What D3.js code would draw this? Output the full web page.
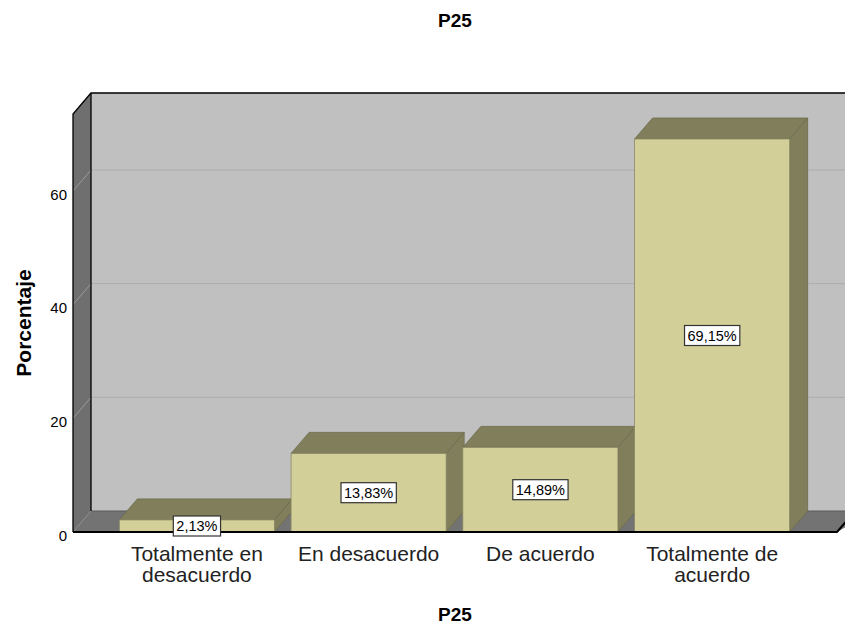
<!DOCTYPE html>
<html><head><meta charset="utf-8">
<script src="https://cdn.jsdelivr.net/npm/d3@7/dist/d3.min.js"></script>
<style>body{margin:0;background:#fff}svg{display:block}text{font-family:"Liberation Sans",Arial,sans-serif}</style>
</head><body>
<svg id="c" width="845" height="626"></svg>
<script>
const categories = ["Totalmente en desacuerdo","En desacuerdo","De acuerdo","Totalmente de acuerdo"];
const catLines = [["Totalmente en","desacuerdo"],["En desacuerdo"],["De acuerdo"],["Totalmente de","acuerdo"]];
const values = [2.13, 13.83, 14.89, 69.15];
const valueLabels = ["2,13%","13,83%","14,89%","69,15%"];
const yTicks = [0,20,40,60];

const svg = d3.select("#c");
const DX = 18, DY = -21;
const x0 = 73, x1 = 837, yBase = 532, yTop = 114;
const y = d3.scaleLinear().domain([0,73.55]).range([yBase,yTop]);
const x = d3.scaleBand().domain(categories).range([111,798]).padding(0);
const bw = x.bandwidth()*0.903;

// back wall
svg.append("rect").attr("x",x0+DX).attr("y",yTop+DY).attr("width",900).attr("height",yBase-yTop).attr("fill","#c0c0c0");
// left wall
svg.append("polygon").attr("points",[[x0,yTop],[x0+DX,yTop+DY],[x0+DX,yBase+DY],[x0,yBase]].join(" ")).attr("fill","#6f6f6f");
// floor
svg.append("polygon").attr("points",[[x0,yBase],[x0+DX,yBase+DY],[x1+DX+20,yBase+DY],[x1,yBase]].join(" ")).attr("fill","#737373");
// gridlines
yTicks.filter(d=>d>0).forEach(v=>{
  svg.append("line").attr("x1",x0+DX).attr("x2",845).attr("y1",y(v)+DY).attr("y2",y(v)+DY).attr("stroke","#acacac").attr("stroke-width",1);
  svg.append("line").attr("x1",x0).attr("x2",x0+DX).attr("y1",y(v)).attr("y2",y(v)+DY).attr("stroke","#9a9a9a").attr("stroke-width",1);
});
// floor back edge
svg.append("line").attr("x1",x0+DX).attr("x2",845).attr("y1",yBase+DY).attr("y2",yBase+DY).attr("stroke","#5a5a5a").attr("stroke-width",1);
// frame lines
const fr = svg.append("g").attr("stroke","#000").attr("stroke-width",1.3).attr("fill","none");
fr.append("polyline").attr("points",[[x0,yBase],[x0,yTop],[x0+DX,yTop+DY],[845,yTop+DY]].join(" "));
fr.append("line").attr("x1",x0+DX).attr("x2",x0+DX).attr("y1",yTop+DY).attr("y2",yBase+DY);
fr.append("polyline").attr("points",[[x0,yBase],[x1,yBase],[x1+DX,yBase+DY]].join(" ")).attr("stroke-width",2);

// bars
categories.forEach((c,i)=>{
  const v = values[i];
  const bx = x(c) + (x.bandwidth()-bw)/2, by = y(v);
  const g = svg.append("g");
  g.append("polygon").attr("points",[[bx+bw,by],[bx+bw+DX,by+DY],[bx+bw+DX,yBase+DY],[bx+bw,yBase]].join(" ")).attr("fill","#817f5b").attr("stroke","#6c6b4b").attr("stroke-width",0.8);
  g.append("polygon").attr("points",[[bx,by],[bx+DX,by+DY],[bx+bw+DX,by+DY],[bx+bw,by]].join(" ")).attr("fill","#817f5b").attr("stroke","#6c6b4b").attr("stroke-width",0.8);
  g.append("rect").attr("x",bx).attr("y",by).attr("width",bw).attr("height",yBase-by).attr("fill","#d3cf98").attr("stroke","#8a8866").attr("stroke-width",0.8);
});
// redraw front baseline over bars
svg.append("line").attr("x1",x0).attr("x2",x1).attr("y1",yBase).attr("y2",yBase).attr("stroke","#000").attr("stroke-width",2);

// value labels
categories.forEach((c,i)=>{
  const v = values[i];
  const cx = x(c)+x.bandwidth()/2;
  let cy = (y(v)+yBase)/2;
  if (yBase - y(v) < 22) cy = yBase - 6;
  const g = svg.append("g");
  const r = g.append("rect");
  const t = g.append("text").attr("x",cx).attr("y",cy).attr("text-anchor","middle").attr("dominant-baseline","central").attr("font-size",14.5).attr("fill","#000").text(valueLabels[i]);
  const bb = t.node().getBBox();
  r.attr("x",bb.x-3).attr("y",cy-10).attr("width",bb.width+6).attr("height",20).attr("fill","#fff").attr("stroke","#333").attr("stroke-width",1.2);
});

// y tick labels
yTicks.forEach(v=>{
  svg.append("text").attr("x",67).attr("y",y(v)+8.5).attr("text-anchor","end").attr("font-size",15).attr("fill","#000").text(v);
});
// category labels
categories.forEach((c,i)=>{
  const cx = x(c)+x.bandwidth()/2;
  catLines[i].forEach((l,j)=>{
    svg.append("text").attr("x",cx).attr("y",561+j*21).attr("text-anchor","middle").attr("font-size",21).attr("fill","#222").text(l);
  });
});
// titles
svg.append("text").attr("x",455).attr("y",27).attr("text-anchor","middle").attr("font-size",19).attr("font-weight","bold").text("P25");
svg.append("text").attr("x",455).attr("y",621).attr("text-anchor","middle").attr("font-size",19).attr("font-weight","bold").text("P25");
svg.append("text").attr("transform","translate(31,323) rotate(-90)").attr("text-anchor","middle").attr("font-size",21).attr("font-weight","bold").text("Porcentaje");
</script>
</body></html>
